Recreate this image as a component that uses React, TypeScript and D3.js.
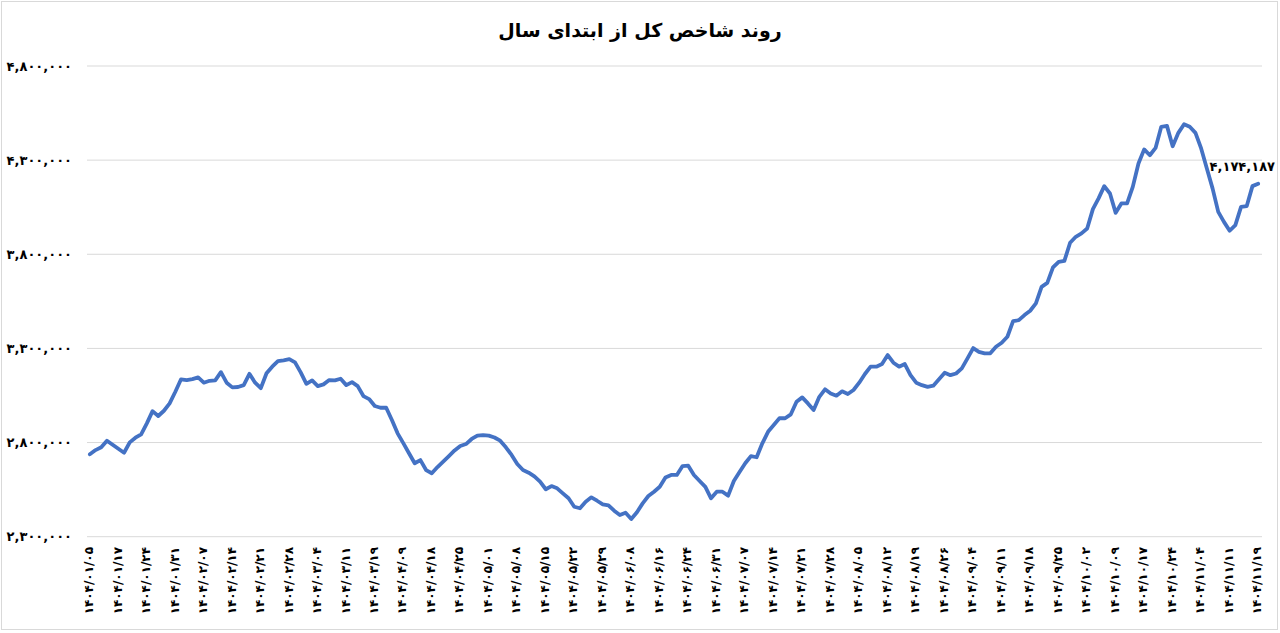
import React from "react";
import * as d3 from "d3";

const title = "روند شاخص کل از ابتدای سال";

const dateLabels = [
  "1404/01/05", "1404/01/17", "1404/01/24", "1404/01/31", "1404/02/07", "1404/02/14",
  "1404/02/21", "1404/02/28", "1404/03/04", "1404/03/11", "1404/03/19", "1404/04/09",
  "1404/04/18", "1404/04/25", "1404/05/01", "1404/05/08", "1404/05/15", "1404/05/22",
  "1404/05/29", "1404/06/08", "1404/06/16", "1404/06/24", "1404/06/31", "1404/07/07",
  "1404/07/14", "1404/07/21", "1404/07/28", "1404/08/05", "1404/08/12", "1404/08/19",
  "1404/08/26", "1404/09/04", "1404/09/11", "1404/09/18", "1404/09/25", "1404/10/02",
  "1404/10/09", "1404/10/17", "1404/10/24", "1404/11/04", "1404/11/11", "1404/11/19",
];
const labelEvery = 5;

const yTicks = [2300000, 2800000, 3300000, 3800000, 4300000, 4800000];

const indexValues = [
  2737500, 2760000, 2775000, 2810000, 2788000, 2767000, 2746000, 2801000, 2826000, 2844000,
  2902000, 2967000, 2941000, 2969000, 3008000, 3070000, 3136000, 3132000, 3137000, 3146000,
  3118000, 3128000, 3130000, 3174000, 3118000, 3093000, 3095000, 3105000, 3165000, 3118000,
  3089000, 3168000, 3203000, 3233000, 3237000, 3243000, 3226000, 3173000, 3112000, 3130000,
  3100000, 3109000, 3132000, 3130000, 3139000, 3105000, 3121000, 3100000, 3047000, 3031000,
  2994000, 2985000, 2985000, 2920000, 2849000, 2797000, 2743000, 2690000, 2707000, 2654000,
  2637000, 2670000, 2699000, 2728000, 2758000, 2782000, 2792000, 2819000, 2837000, 2840000,
  2837000, 2827000, 2810000, 2775000, 2734000, 2686000, 2654000, 2640000, 2620000, 2592000,
  2552000, 2569000, 2557000, 2530000, 2504000, 2459000, 2451000, 2486000, 2509000, 2491000,
  2472000, 2467000, 2438000, 2415000, 2427000, 2394000, 2430000, 2477000, 2516000, 2539000,
  2565000, 2615000, 2628000, 2628000, 2675000, 2677000, 2628000, 2596000, 2565000, 2504000,
  2539000, 2539000, 2518000, 2596000, 2644000, 2690000, 2728000, 2722000, 2796000, 2857000,
  2893000, 2929000, 2929000, 2950000, 3017000, 3040000, 3008000, 2973000, 3043000, 3083000,
  3061000, 3049000, 3072000, 3058000, 3079000, 3118000, 3164000, 3203000, 3203000, 3217000,
  3265000, 3224000, 3203000, 3217000, 3158000, 3118000, 3105000, 3096000, 3102000, 3136000,
  3171000, 3158000, 3167000, 3194000, 3247000, 3302000, 3282000, 3274000, 3274000, 3309000,
  3330000, 3362000, 3445000, 3450000, 3477000, 3500000, 3539000, 3627000, 3648000, 3730000,
  3760000, 3765000, 3861000, 3893000, 3911000, 3937000, 4040000, 4097000, 4162000, 4123000,
  4020000, 4070000, 4070000, 4158000, 4282000, 4357000, 4326000, 4365000, 4477000, 4482000,
  4374000, 4445000, 4491000, 4477000, 4445000, 4362000, 4256000, 4150000, 4025000, 3972000,
  3925000, 3955000, 4052000, 4056000, 4162000, 4174187,
];

const fa = (s: string) => s.replace(/\d/g, (d) => "۰۱۲۳۴۵۶۷۸۹"[+d]);
const fmt = (v: number) => fa(d3.format(",")(v));

const W = 1280;
const H = 633;
const FONT = "'DejaVu Sans', sans-serif";

export default function App() {
  const idx = indexValues.map((_, i) => i);
  const x = d3.scalePoint<number>().domain(idx).range([87, 1261]).padding(0.5);
  const y = d3.scaleLinear().domain([2300000, 4800000]).range([536.7, 66]);
  const line = d3
    .line<number>()
    .x((_, i) => x(i) as number)
    .y((d) => y(d));
  const last = indexValues.length - 1;

  return (
    <svg
      width={W}
      height={H}
      style={{ position: "absolute", left: 0, top: 0, background: "#fff", display: "block" }}
    >
      <rect x={1.5} y={1.5} width={1276} height={628} fill="#fff" stroke="#d9d9d9" strokeWidth={1} />
      <text
        x={640}
        y={37}
        textAnchor="middle"
        fontFamily={FONT}
        fontWeight="bold"
        fontSize={19}
        direction="rtl"
        fill="#000"
      >
        {title}
      </text>
      {yTicks.map((t) => (
        <g key={t}>
          <line x1={87} x2={1262} y1={y(t)} y2={y(t)} stroke="#d9d9d9" strokeWidth={1} />
          <text
            x={72}
            y={y(t)}
            dy="0.35em"
            textAnchor="end"
            fontFamily={FONT}
            fontWeight="bold"
            fontSize={13}
            direction="ltr"
            fill="#000"
          >
            {fmt(t)}
          </text>
        </g>
      ))}
      {dateLabels.map((lab, k) => {
        const px = x(k * labelEvery) as number;
        return (
          <text
            key={lab}
            transform={`translate(${px - 1},547) rotate(-90)`}
            dy="0.35em"
            textAnchor="end"
            fontFamily={FONT}
            fontWeight="bold"
            fontSize={12}
            direction="ltr"
            fill="#000"
          >
            {fa(lab)}
          </text>
        );
      })}
      <path
        d={line(indexValues) || ""}
        fill="none"
        stroke="#4472C4"
        strokeWidth={3.8}
        strokeLinejoin="round"
        strokeLinecap="round"
      />
      <text
        x={1275}
        y={y(indexValues[last]) - 17}
        dy="0.35em"
        textAnchor="end"
        fontFamily={FONT}
        fontWeight="bold"
        fontSize={13}
        direction="ltr"
        fill="#000"
      >
        {fmt(indexValues[last])}
      </text>
    </svg>
  );
}
